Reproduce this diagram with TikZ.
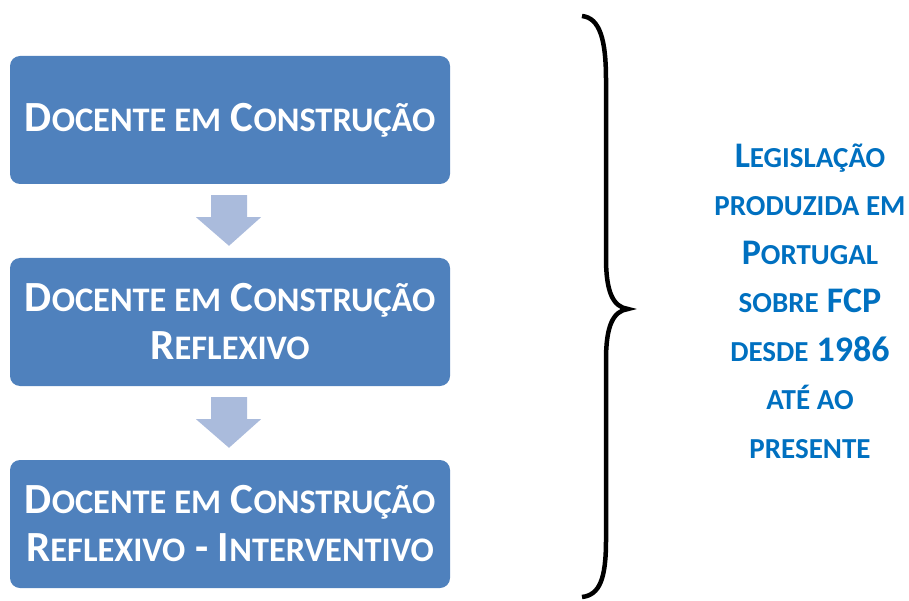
\documentclass[tikz,border=0pt]{standalone}
\usepackage{fontspec}
\setmainfont{Carlito}
\usetikzlibrary{calc}
\definecolor{boxblue}{HTML}{4F81BD}
\definecolor{arrowblue}{HTML}{AABBDC}
\definecolor{textblue}{HTML}{0070C0}
\newcommand\bsm[1]{{\fontsize{34.4}{48}\selectfont #1}}
\newcommand\rsm[1]{{\fontsize{29}{48.5}\selectfont #1}}
\tikzset{
  stagebox/.style={fill=boxblue, rounded corners=10pt, minimum width=440pt, minimum height=128pt,
    text=white, align=center, inner sep=0pt, font=\bfseries\fontsize{43}{48}\selectfont},
  downarrow/.style={fill=arrowblue},
  legtext/.style={text=textblue, align=center, inner sep=0pt, font=\bfseries\fontsize{36}{48.5}\selectfont},
  bracestyle/.style={line width=4.5pt}
}
\begin{document}
\begin{tikzpicture}[x=1pt,y=-1pt]
\useasboundingbox (0,0) rectangle (909,601);
\node[stagebox] (b1) at (230,120) {D\bsm{OCENTE EM} C\bsm{ONSTRUÇÃO}};
\node[stagebox] (b2) at (230,322) {D\bsm{OCENTE EM} C\bsm{ONSTRUÇÃO}\\R\bsm{EFLEXIVO}};
\node[stagebox] (b3) at (230,524) {D\bsm{OCENTE EM} C\bsm{ONSTRUÇÃO}\\R\bsm{EFLEXIVO} - I\bsm{NTERVENTIVO}};
\foreach \a/\b in {b1/b2, b2/b3}{
  \fill[downarrow] ($(\a.south)+(-19,11)$) -- ($(\a.south)+(17,11)$) -- ($(\a.south)+(17,33)$)
    -- ($(\a.south)+(31,33)$) -- ($(\b.north)+(-1,-12)$) -- ($(\a.south)+(-34,33)$)
    -- ($(\a.south)+(-19,33)$) -- cycle;
}
\coordinate (btop) at (582,16);
\coordinate (btip) at (628,309);
\coordinate (bbot) at (582,597);
\draw[bracestyle] (btop) .. controls (600,18) and (606,40) .. (606,80) -- (606,258)
  .. controls (606,292) and (613,307) .. (btip)
  .. controls (613,311) and (606,326) .. (606,360) -- (606,540)
  .. controls (606,578) and (600,595) .. (bbot);
\node[legtext] (leg) at (810,301) {L\rsm{EGISLAÇÃO}\\\rsm{PRODUZIDA EM}\\P\rsm{ORTUGAL}\\\rsm{SOBRE} FCP\\\rsm{DESDE} 1986\\\rsm{ATÉ AO}\\\rsm{PRESENTE}};
\end{tikzpicture}
\end{document}
